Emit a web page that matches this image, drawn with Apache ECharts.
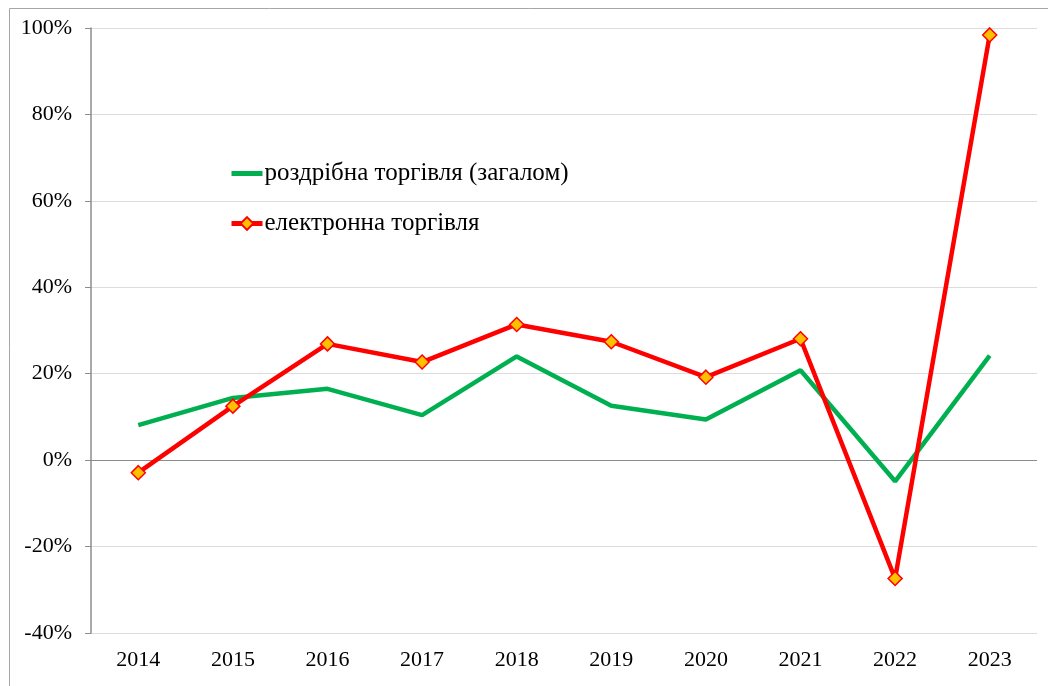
<!DOCTYPE html>
<html><head><meta charset="utf-8">
<script src="https://cdn.jsdelivr.net/npm/echarts@6/dist/echarts.min.js"></script>
<style>html,body{margin:0;padding:0;background:#fff}#c{width:1048px;height:686px}</style>
</head><body><div id="c"></div>
<script>
const years = ['2014','2015','2016','2017','2018','2019','2020','2021','2022','2023'];
const retail = [8.1, 14.4, 16.5, 10.4, 24.0, 12.6, 9.4, 20.8, -4.9, 24.2];
const ecommerce = [-2.9, 12.5, 26.9, 22.7, 31.4, 27.4, 19.2, 28.1, -27.4, 98.4];
const seriesNames = ['роздрібна торгівля (загалом)', 'електронна торгівля'];

const font = 'Liberation Serif, Times New Roman, serif';
const chart = echarts.init(document.getElementById('c'));
chart.setOption({
  animation: false,
  backgroundColor: '#fff',
  graphic: [{type:'polyline', shape:{points:[[9.5,690],[9.5,8.5],[1060,8.5]]}, style:{stroke:'#a6a6a6', lineWidth:1, fill:null}, silent:true}],
  grid: {left: 91, right: 11, top: 28, bottom: 53},
  legend: {
    orient: 'vertical', left: 229, top: 161, padding: 0, itemGap: 25, itemWidth: 31, itemHeight: 16,
    textStyle: {fontFamily: font, fontSize: 25, color: '#000', padding: [0,0,0,-3]},
    data: [
      {name: seriesNames[0], itemStyle: {opacity: 0}, lineStyle: {width: 5}},
      {name: seriesNames[1], lineStyle: {width: 5}}
    ]
  },
  xAxis: {
    type: 'category', data: years, boundaryGap: true,
    axisLine: {show: false}, axisTick: {show: false},
    axisLabel: {fontFamily: font, fontSize: 22, color: '#000', margin: 16}
  },
  yAxis: {
    type: 'value', min: -40, max: 100, interval: 20,
    axisLine: {show: true, lineStyle: {color: '#8c8c8c', width: 1.5}},
    axisTick: {show: true, length: 6, lineStyle: {color: '#8c8c8c'}},
    axisLabel: {fontFamily: font, fontSize: 22, color: '#000', margin: 19, formatter: '{value}%'},
    splitLine: {show: true, lineStyle: {color: ['#dcdcdc','#dcdcdc','#8c8c8c','#dcdcdc','#dcdcdc','#dcdcdc','#dcdcdc','#dcdcdc'], width: 1}}
  },
  series: [
    {name: seriesNames[0], type: 'line', data: retail, symbol: 'none', showSymbol: false,
     lineStyle: {color: '#00B050', width: 4.5}, itemStyle: {color: '#00B050'}},
    {name: seriesNames[1], type: 'line', data: ecommerce, symbol: 'diamond', symbolSize: 14,
     lineStyle: {color: '#FF0000', width: 4.5}, itemStyle: {color: '#FFC000', borderColor: '#FF0000', borderWidth: 1.5}}
  ]
});
</script></body></html>
